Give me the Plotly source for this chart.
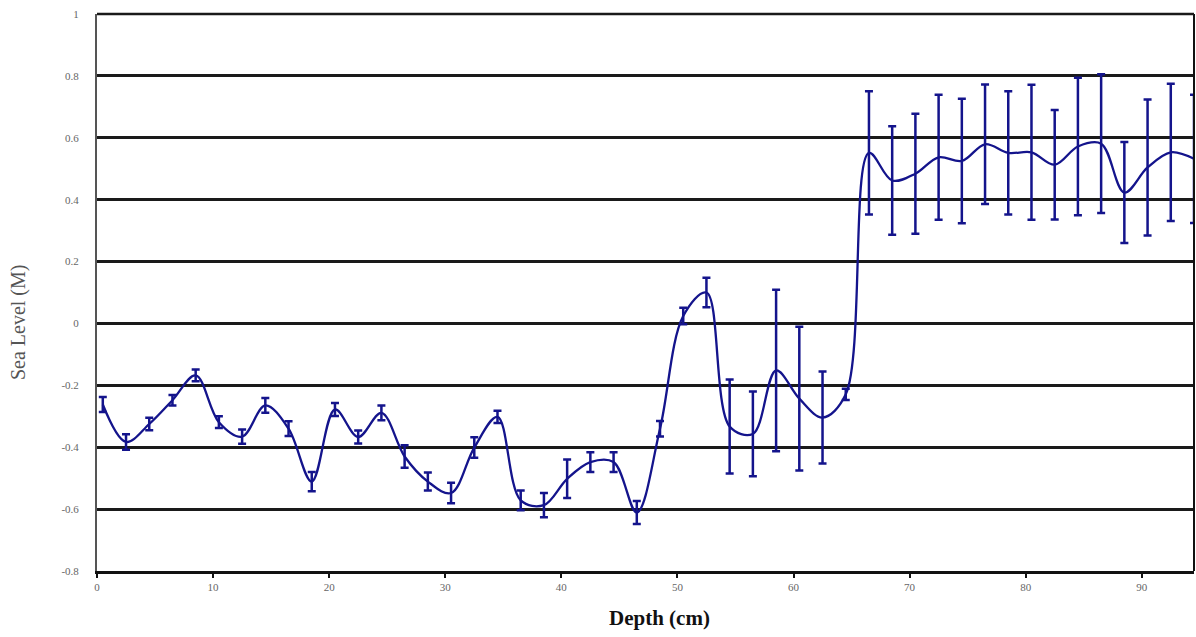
import plotly.graph_objects as go

# Sample depths (cm) along the core
depth_cm = [0.5, 2.5, 4.5, 6.5, 8.5, 10.5, 12.5, 14.5, 16.5, 18.5,
            20.5, 22.5, 24.5, 26.5, 28.5, 30.5, 32.5, 34.5, 36.5, 38.5,
            40.5, 42.5, 44.5, 46.5, 48.5, 50.5, 52.5, 54.5, 56.5, 58.5,
            60.5, 62.5, 64.5, 66.5, 68.5, 70.5, 72.5, 74.5, 76.5, 78.5,
            80.5, 82.5, 84.5, 86.5, 88.5, 90.5, 92.5, 94.5]

# Reconstructed sea level (m)
sea_level_m = [-0.262, -0.383, -0.325, -0.248, -0.168, -0.319, -0.366, -0.265,
               -0.340, -0.511, -0.278, -0.367, -0.289, -0.430, -0.511, -0.548,
               -0.401, -0.302, -0.572, -0.587, -0.502, -0.448, -0.448, -0.611,
               -0.340, 0.024, 0.100, -0.333, -0.357, -0.152, -0.243, -0.304,
               -0.229, 0.551, 0.462, 0.484, 0.537, 0.525, 0.579, 0.551,
               0.553, 0.513, 0.572, 0.581, 0.423, 0.504, 0.553, 0.532]

# Uncertainty (± m)
error_m = [0.024, 0.025, 0.020, 0.017, 0.019, 0.019, 0.023, 0.024,
           0.024, 0.031, 0.021, 0.021, 0.024, 0.036, 0.029, 0.033,
           0.033, 0.020, 0.032, 0.039, 0.062, 0.032, 0.032, 0.037,
           0.025, 0.027, 0.048, 0.152, 0.137, 0.261, 0.232, 0.149,
           0.018, 0.199, 0.175, 0.194, 0.202, 0.201, 0.193, 0.199,
           0.218, 0.177, 0.222, 0.224, 0.163, 0.220, 0.222, 0.207]

y_ticks = [-0.8, -0.6, -0.4, -0.2, 0, 0.2, 0.4, 0.6, 0.8, 1]
y_tick_text = ["-0.8", "-0.6", "-0.4", "-0.2", "0", "0.2", "0.4", "0.6", "0.8", "1"]
x_ticks = [0, 10, 20, 30, 40, 50, 60, 70, 80, 90]
x_tick_text = ["0", "10", "20", "30", "40", "50", "60", "70", "80", "90"]

navy = "#14148c"
serif = "Liberation Serif, Times New Roman, serif"

fig = go.Figure()
fig.add_trace(go.Scatter(
    x=depth_cm,
    y=sea_level_m,
    mode="lines",
    line=dict(color=navy, width=2.3, shape="spline", smoothing=1.0),
    error_y=dict(type="data", array=error_m, visible=True,
                 color=navy, thickness=2.5, width=4),
    showlegend=False,
    cliponaxis=False,
))

fig.update_layout(
    width=1196, height=637,
    margin=dict(l=97, r=2, t=14, b=66),
    paper_bgcolor="white",
    plot_bgcolor="white",
    font=dict(family=serif, color="#333333"),
    xaxis=dict(
        range=[0, 94.5],
        tickvals=x_ticks, ticktext=x_tick_text,
        showgrid=False, zeroline=False,
        showline=True, linecolor="#111111", linewidth=2.5,
        mirror=False,
        ticks="outside", ticklen=4, tickwidth=2, tickcolor="#111111",
        tickfont=dict(family=serif, size=11, color="#666666"),
    ),
    yaxis=dict(
        range=[-0.8, 1.0],
        tickvals=y_ticks, ticktext=y_tick_text,
        showgrid=True, gridcolor="#1a1a1a", gridwidth=2.5,
        zeroline=False,
        showline=True, linecolor="#555555", linewidth=2,
        ticks="", ticklabelstandoff=14,
        tickfont=dict(family=serif, size=11, color="#666666"),
    ),
    shapes=[
        # right-hand frame edge and top gridline at the range limit
        dict(type="line", xref="paper", yref="paper", x0=1, x1=1, y0=0, y1=1,
             line=dict(color="#111111", width=2)),
        dict(type="line", xref="paper", yref="paper", x0=0, x1=1, y0=1, y1=1,
             line=dict(color="#1a1a1a", width=2.5)),
    ],
    annotations=[
        dict(text="Sea Level (M)", xref="paper", yref="paper",
             x=-0.072, y=0.447, textangle=-90, showarrow=False,
             xanchor="center", yanchor="middle",
             font=dict(family=serif, size=20, color="#555555")),
        dict(text="<b>Depth (cm)</b>", xref="paper", yref="paper",
             x=0.513, y=-0.085, showarrow=False,
             xanchor="center", yanchor="middle",
             font=dict(family=serif, size=21, color="#111111")),
    ],
)

fig.write_html("out.html")
